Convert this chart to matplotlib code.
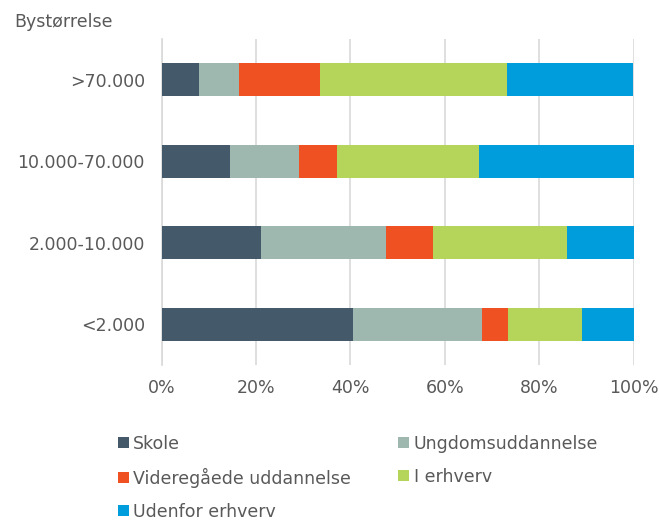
import matplotlib
matplotlib.use("Agg")
import matplotlib.pyplot as plt
import numpy as np

categories = ["<2.000", "2.000-10.000", "10.000-70.000", ">70.000"]
series_names = ["Skole", "Ungdomsuddannelse", "Videregåede uddannelse", "I erhverv", "Udenfor erhverv"]
skole = [40.6, 21.1, 14.6, 8.0]
ungdom = [27.4, 26.5, 14.6, 8.4]
videre = [5.4, 9.9, 7.9, 17.2]
erhverv = [15.7, 28.5, 30.2, 39.6]
udenfor = [10.9, 14.0, 32.7, 26.8]
colors = ["#44596a", "#9eb8af", "#f05123", "#b5d55a", "#009ddd"]
xticks = [0, 20, 40, 60, 80, 100]
xticklabels = ["0%", "20%", "40%", "60%", "80%", "100%"]

plt.rcParams['font.family'] = ['DejaVu Sans']
txt = "#595959"
fs = 12.5

fig = plt.figure(figsize=(6.59, 5.20), dpi=100)
ax = fig.add_axes([161.5/659, 1 - 365/520, (633.5-161.5)/659, (365-39)/520])

data = [skole, ungdom, videre, erhverv, udenfor]
y = np.arange(len(categories))
left = np.zeros(len(categories))
handles = []
for name, vals, c in zip(series_names, data, colors):
    vals = np.array(vals)
    h = ax.barh(y, vals, left=left, height=0.41, color=c, label=name, zorder=3)
    handles.append(h)
    left += vals

ax.set_xlim(0, 100)
ax.set_ylim(-0.5, 3.5)
ax.set_yticks(y)
ax.set_yticklabels(categories, fontsize=fs, color=txt)
ax.set_xticks(xticks)
ax.set_xticklabels(xticklabels, fontsize=fs, color=txt)
ax.tick_params(axis='y', length=0, pad=12)
ax.tick_params(axis='x', length=0, pad=10)
ax.grid(axis='x', color="#d9d9d9", linewidth=1.2, zorder=0)
for s in ["top", "right", "bottom"]:
    ax.spines[s].set_visible(False)
ax.spines["left"].set_color("#d9d9d9")
ax.spines["left"].set_linewidth(1.2)

fig.text(14/659, 1 - 22/520, "Bystørrelse", fontsize=fs, color=txt, va="center", ha="left")

order = [0, 2, 4, 1, 3]
leg = fig.legend([handles[i] for i in order], [series_names[i] for i in order],
                 ncol=2, frameon=False, loc="upper left",
                 bbox_to_anchor=(102/659, 1 - 419/520),
                 fontsize=fs, handlelength=0.65, handleheight=0.65,
                 handletextpad=0.25, columnspacing=2.7, labelspacing=0.86,
                 labelcolor=txt)

fig.savefig("out.png", dpi=100)
